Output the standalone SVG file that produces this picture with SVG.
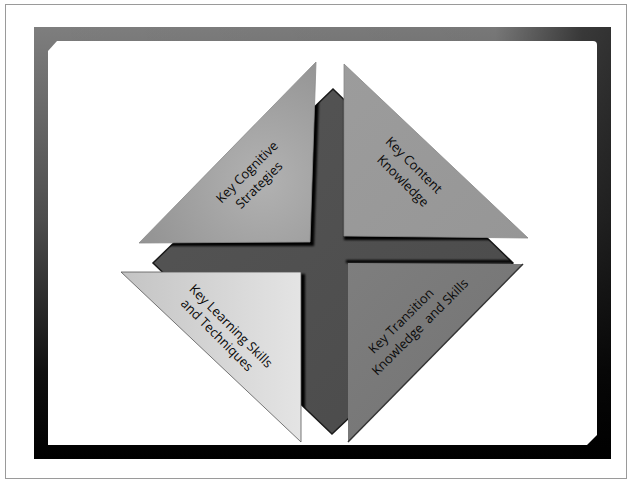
<svg xmlns="http://www.w3.org/2000/svg" width="632" height="482" viewBox="0 0 632 482">
<style>
.lbl{font-family:"Open Sans","Noto Sans",sans-serif;font-size:13px;fill:#0a0a0a;text-anchor:middle;white-space:pre}
</style>
<defs>
<linearGradient id="frameG" x1="0" y1="0" x2="0" y2="1">
<stop offset="0" stop-color="#7e7e7e"/>
<stop offset="0.45" stop-color="#4c4c4c"/>
<stop offset="0.8" stop-color="#101010"/>
<stop offset="1" stop-color="#000"/>
</linearGradient>
<linearGradient id="frameH" x1="0" y1="0" x2="1" y2="0">
<stop offset="0" stop-color="#000" stop-opacity="0"/>
<stop offset="0.8" stop-color="#000" stop-opacity="0.05"/>
<stop offset="0.95" stop-color="#000" stop-opacity="0.55"/>
<stop offset="1" stop-color="#000" stop-opacity="0.6"/>
</linearGradient>
<linearGradient id="diaG" x1="0" y1="0" x2="1" y2="1">
<stop offset="0" stop-color="#555"/>
<stop offset="1" stop-color="#4a4a4a"/>
</linearGradient>
<radialGradient id="tlG" cx="0.7" cy="0.65" r="0.7">
<stop offset="0" stop-color="#b2b2b2"/>
<stop offset="1" stop-color="#959595"/>
</radialGradient>
<linearGradient id="trG" x1="0" y1="0" x2="1" y2="1">
<stop offset="0" stop-color="#9c9c9c"/>
<stop offset="1" stop-color="#969696"/>
</linearGradient>
<linearGradient id="blG" x1="0" y1="0" x2="1" y2="0">
<stop offset="0" stop-color="#c4c4c4"/>
<stop offset="1" stop-color="#e4e4e4"/>
</linearGradient>
<linearGradient id="brG" x1="0" y1="0" x2="1" y2="1">
<stop offset="0" stop-color="#7e7e7e"/>
<stop offset="1" stop-color="#727272"/>
</linearGradient>
<clipPath id="diaClip"><polygon points="333,89 513,263 332,434 153,263"/></clipPath>
<filter id="blur" x="-10%" y="-10%" width="120%" height="120%"><feGaussianBlur stdDeviation="1.2"/></filter>
</defs>
<rect x="5.5" y="4.5" width="621" height="474" fill="#fff" stroke="#9a9a9a" stroke-width="1"/>
<g id="frame">
<rect x="34" y="27" width="577" height="432" fill="url(#frameG)"/>
<rect x="34" y="27" width="577" height="432" fill="url(#frameH)"/>
<path d="M48,51 L57,41 L593,41 Q597,41 597,45 L597,435 L587,445 L48,445 Z" fill="#fff"/>
</g>
<g id="cross">
<polygon points="333,89 513,263 332,434 153,263" fill="url(#diaG)" stroke="#1a1a1a" stroke-width="1.5"/>
<g clip-path="url(#diaClip)" filter="url(#blur)" fill="#000">
<polygon points="320,65 143,246 314,246"/>
<polygon points="344,66 344,240 530,240"/>
<polygon points="125,274 305,274 305,444"/>
<rect x="346" y="260" width="170" height="3"/>
</g>
</g>
<g id="node-cognitive">
<polygon points="316,62 139,243 310,242" fill="url(#tlG)" stroke="#8a8a8a" stroke-width="0.8"/>
<text class="lbl" transform="translate(247,172) rotate(-45)" y="4.5">Key Cognitive</text>
<text class="lbl" transform="translate(259,185) rotate(-45)" y="4.5">Strategies</text>
</g>
<g id="node-content">
<polygon points="344,64 344,236 528,238" fill="url(#trG)" stroke="#888" stroke-width="0.8"/>
<text class="lbl" transform="translate(414,165) rotate(45)" y="4.5">Key Content</text>
<text class="lbl" transform="translate(403,181) rotate(45)" y="4.5">Knowledge</text>
</g>
<g id="node-learning">
<polygon points="121,272 301,272 301,442" fill="url(#blG)" stroke="#555" stroke-width="0.8"/>
<text class="lbl" transform="translate(231,326) rotate(45)" y="4.5">Key Learning Skills</text>
<text class="lbl" transform="translate(217,335) rotate(45)" y="4.5">and Techniques</text>
</g>
<g id="node-transition">
<polygon points="348,263 523,264 348,442" fill="url(#brG)"/>
<line x1="523" y1="264" x2="348" y2="442" stroke="#333" stroke-width="1.5"/>
<text class="lbl" transform="translate(401,321) rotate(-45)" y="4.5">Key Transition</text>
<text class="lbl" transform="translate(420,327) rotate(-45)" y="4.5">Knowledge  and Skills</text>
</g>
<g id="connectors"/>
</svg>
